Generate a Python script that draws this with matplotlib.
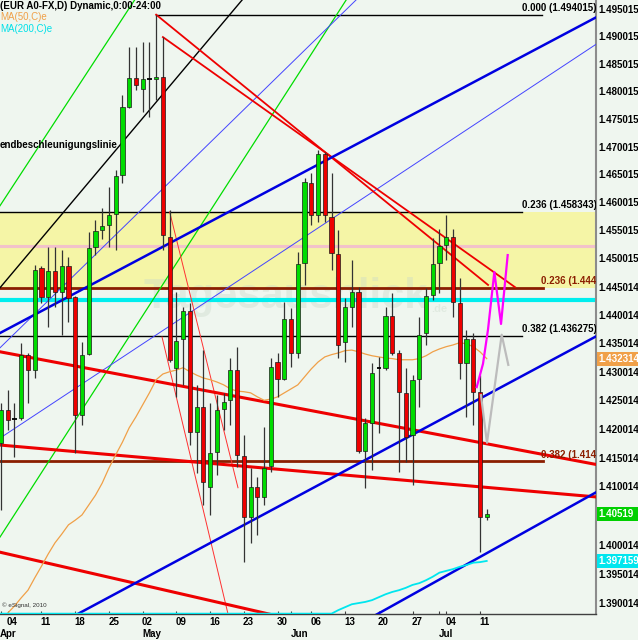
import numpy as np
import pandas as pd
import matplotlib
matplotlib.use("Agg")
import matplotlib.pyplot as plt
from matplotlib.patches import Rectangle
from matplotlib.ticker import NullLocator, NullFormatter
from matplotlib.transforms import blended_transform_factory

plt.rcParams['font.family'] = ['Liberation Sans', 'DejaVu Sans']

# ---------------- data ----------------
dates = pd.bdate_range("2011-04-01", "2011-07-12")

opens = [1.4176, 1.4233, 1.4217, 1.4219, 1.4330, 1.4303, 1.4483, 1.4432, 1.4478, 1.4441,
         1.4487, 1.4432, 1.4224, 1.4331, 1.4521, 1.4551, 1.4560, 1.4579, 1.4649, 1.4772,
         1.4825, 1.4805, 1.4823, 1.4823, 1.4827, 1.4538, 1.4307, 1.4358, 1.4407, 1.4195,
         1.4238, 1.4099, 1.4160, 1.4235, 1.4250, 1.4303, 1.4153, 1.4048, 1.4099, 1.4082,
         1.4136, 1.4317, 1.4287, 1.4393, 1.4333, 1.4492, 1.4635, 1.4578, 1.4687, 1.4574,
         1.4508, 1.4352, 1.4414, 1.4441, 1.4162, 1.4210, 1.4307, 1.4307, 1.4398, 1.4333,
         1.4263, 1.4190, 1.4287, 1.4368, 1.4435, 1.4492, 1.4524, 1.4538, 1.4421, 1.4316,
         1.4358, 1.4265, 1.4048]
highs = [1.4245, 1.4268, 1.4245, 1.4351, 1.4333, 1.4489, 1.4487, 1.4521, 1.4521, 1.4515,
         1.4503, 1.4433, 1.4352, 1.4547, 1.4569, 1.4590, 1.4628, 1.4658, 1.4794, 1.4881,
         1.4881, 1.4890, 1.4890, 1.4940, 1.4899, 1.4587, 1.4441, 1.4414, 1.4421, 1.4277,
         1.4338, 1.4245, 1.4259, 1.4263, 1.4324, 1.4344, 1.4190, 1.4132, 1.4117, 1.4203,
         1.4324, 1.4333, 1.4423, 1.4412, 1.4512, 1.4644, 1.4653, 1.4694, 1.4691, 1.4653,
         1.4551, 1.4430, 1.4497, 1.4449, 1.4219, 1.4316, 1.4326, 1.4414, 1.4439, 1.4338,
         1.4307, 1.4294, 1.4396, 1.4448, 1.4537, 1.4553, 1.4578, 1.4553, 1.4466, 1.4374,
         1.4368, 1.4294, 1.4061]
lows = [1.4060, 1.4198, 1.4151, 1.4216, 1.4245, 1.4289, 1.4421, 1.4379, 1.4414, 1.4365,
        1.4388, 1.4158, 1.4207, 1.4330, 1.4506, 1.4535, 1.4521, 1.4515, 1.4635, 1.4770,
        1.4803, 1.4763, 1.4754, 1.4785, 1.4515, 1.4317, 1.4256, 1.4277, 1.4172, 1.4124,
        1.4068, 1.4051, 1.4120, 1.4198, 1.4207, 1.4134, 1.3970, 1.4003, 1.4017, 1.4068,
        1.4125, 1.4256, 1.4286, 1.4308, 1.4324, 1.4453, 1.4560, 1.4565, 1.4565, 1.4480,
        1.4324, 1.4317, 1.4379, 1.4158, 1.4098, 1.4129, 1.4193, 1.4303, 1.4330, 1.4125,
        1.4143, 1.4103, 1.4238, 1.4347, 1.4426, 1.4439, 1.4497, 1.4396, 1.4287, 1.4221,
        1.4207, 1.3987, 1.4042]
closes = [1.4233, 1.4216, 1.4217, 1.4330, 1.4303, 1.4480, 1.4432, 1.4478, 1.4441, 1.4487,
          1.4430, 1.4224, 1.4330, 1.4519, 1.4549, 1.4558, 1.4578, 1.4648, 1.4772, 1.4825,
          1.4812, 1.4823, 1.4823, 1.4827, 1.4542, 1.4321, 1.4354, 1.4407, 1.4195, 1.4238,
          1.4108, 1.4158, 1.4233, 1.4247, 1.4303, 1.4155, 1.4048, 1.4099, 1.4082, 1.4132,
          1.4308, 1.4287, 1.4393, 1.4333, 1.4490, 1.4637, 1.4578, 1.4687, 1.4578, 1.4510,
          1.4347, 1.4414, 1.4441, 1.4162, 1.4210, 1.4298, 1.4307, 1.4398, 1.4333, 1.4265,
          1.4186, 1.4286, 1.4365, 1.4433, 1.4490, 1.4522, 1.4538, 1.4423, 1.4316, 1.4358,
          1.4265, 1.4048, 1.4052]

ma50 = [np.nan, 1.3883, 1.3895, 1.3909, 1.3922, 1.3943, 1.3963, 1.3984, 1.4003, 1.4018,
        1.4034, 1.4042, 1.4051, 1.4068, 1.4085, 1.4106, 1.4132, 1.4155, 1.4177, 1.4202,
        1.4221, 1.4242, 1.4263, 1.4286, 1.4296, 1.4300, 1.4303, 1.4307, 1.4300, 1.4294,
        1.4289, 1.4286, 1.4282, 1.4277, 1.4270, 1.4266, 1.4265, 1.4263, 1.4256, 1.4250,
        1.4252, 1.4256, 1.4263, 1.4270, 1.4277, 1.4291, 1.4305, 1.4317, 1.4326, 1.4330,
        1.4333, 1.4337, 1.4338, 1.4335, 1.4331, 1.4328, 1.4326, 1.4324, 1.4323, 1.4321,
        1.4321, 1.4321, 1.4323, 1.4328, 1.4335, 1.4340, 1.4344, 1.4347, 1.4351, 1.4349,
        1.4344, 1.4335, 1.4323]
ma200 = [1.3882, 1.3882, 1.3882, 1.3882, 1.3882, 1.3882, 1.3882, 1.3882, 1.3882, 1.3882,
         1.3882, 1.3882, 1.3882, 1.3882, 1.3882, 1.3882, 1.3882, 1.3882, 1.3882, 1.3882,
         1.3882, 1.3882, 1.3882, 1.3882, 1.3882, 1.3882, 1.3882, 1.3882, 1.3882, 1.3882,
         1.3882, 1.3882, 1.3882, 1.3882, 1.3882, 1.3882, 1.3882, 1.3882, 1.3882, 1.3882,
         1.3882, 1.3882, 1.3882, 1.3882, 1.3882, 1.3882, 1.3882, 1.3882, 1.3882, 1.3882,
         1.3888, 1.3893, 1.3898, 1.3900, 1.3902, 1.3905, 1.3910, 1.3915, 1.3919, 1.3922,
         1.3926, 1.3931, 1.3934, 1.3939, 1.3945, 1.3952, 1.3955, 1.3958, 1.3962, 1.3965,
         1.3969, 1.3970, 1.3972]

day_labels = ["04", "11", "18", "25", "02", "09", "16", "23", "30", "06", "13", "20", "27", "04", "11"]
month_labels = ["Apr", "May", "Jun", "Jul"]

y_tick_values = [1.495015, 1.490015, 1.485015, 1.480015, 1.475015, 1.470015, 1.465015,
                 1.460015, 1.455015, 1.450015, 1.445014, 1.440014, 1.435014, 1.430014,
                 1.425014, 1.420014, 1.415014, 1.410014, 1.400014, 1.395014, 1.390014]
y_tick_labels = ["1.495015", "1.490015", "1.485015", "1.480015", "1.475015", "1.470015", "1.465015",
                 "1.460015", "1.455015", "1.450015", "1.445014", "1.440014", "1.435014", "1.430014",
                 "1.425014", "1.420014", "1.415014", "1.410014", "1.400014", "1.395014", "1.390014"]

# Fibonacci levels
fib_top = 1.494015
fib_top_label = "0.000 (1.494015)"
fib_black = [1.458343, 1.436275]
fib_black_labels = ["0.236 (1.458343)", "0.382 (1.436275)"]
fib_brown = [1.444750, 1.414400]
fib_brown_labels = ["0.236 (1.444", "0.382 (1.414"]
band_low, band_high = 1.444750, 1.458343
pink_level = 1.4522
cyan_level = 1.4426

# trend lines as (trading-day index, price) pairs
black_line = [(-0.15, 1.4448), (36.9, 1.4984)]
green_lines = [[(-0.15, 1.4594), (20.6, 1.4982)],
               [(-0.15, 1.4013), (52.0, 1.4983)]]
blue_thick = [[(-0.15, 1.4368), (88.35, 1.4936)],
              [(10.0, 1.3873), (88.35, 1.4363)],
              [(54.5, 1.3873), (88.35, 1.4091)]]
blue_thin = [[(-0.15, 1.4184), (88.35, 1.4887)],
             [(-0.15, 1.4342), (53.96, 1.4983)]]
red_top = [[(23.0, 1.4940), (72.2, 1.4453)],
           [(24.0, 1.4899), (76.2, 1.4449)]]
red_thin = [[(25.0, 1.4583), (35.13, 1.4098)],
            [(23.87, 1.4361), (33.95, 1.3867)]]
red_thick = [[(-0.15, 1.4335), (88.35, 1.4138)],
             [(-0.15, 1.4172), (88.35, 1.4082)],
             [(-0.15, 1.3987), (41.36, 1.3877)]]

forecast_magenta_x = [70.52, 71.45, 72.19, 73.13, 74.12, 75.11]
forecast_magenta_y = [1.4273, 1.4314, 1.4374, 1.4476, 1.4384, 1.4506]
forecast_gray_x = [71.15, 72.04, 74.22, 75.2]
forecast_gray_y = [1.4259, 1.4176, 1.4365, 1.4312]

last_close_label = "1.40519"
ma50_label = "1.432314"
ma200_label = "1.397159"

# ---------------- styling ----------------
BG = '#eff6ef'
GREEN = '#00dc00'
RED = '#ee0000'

W, H = 638, 640
fig = plt.figure(figsize=(W / 100, H / 100), dpi=100, facecolor=BG)
ax = fig.add_axes([0, 26 / H, 596 / W, 614 / H])
ax.set_facecolor(BG)
ax.set_yscale('log')
ax.set_xlim(-0.148, 88.2)
ax.set_ylim(1.38814, 1.49669)

idx = np.arange(len(dates))
o = np.array(opens); h = np.array(highs); l = np.array(lows); c = np.array(closes)
assert len(o) == len(h) == len(l) == len(c) == len(idx) == len(ma50) == len(ma200)

# band and horizontal levels
ax.axhspan(band_low, band_high, color='#f5f5a6', zorder=0.5, lw=0)
ax.axhline(pink_level, color='#f2c2ca', lw=2.2, zorder=1.6)
ax.axhline(cyan_level, color='#00eeee', lw=3.0, zorder=1.6)

x_fib_end = 77.2
x_brown_end = 80.3
ax.plot([23.0, 80.2], [fib_top, fib_top], color='black', lw=1.0, zorder=2)
for lvl in fib_black:
    ax.plot([-0.15, x_fib_end], [lvl, lvl], color='black', lw=1.0, zorder=2)
for lvl in fib_brown:
    ax.plot([-0.15, x_brown_end], [lvl, lvl], color='#8b1e00', lw=2.0, zorder=2)

lab_kw = dict(fontsize=7, fontweight='bold', va='bottom', ha='left', zorder=9, clip_on=True)
ax.text(77.2, fib_top * 1.0002, fib_top_label, color='black', **lab_kw)
for lvl, lab in zip(fib_black, fib_black_labels):
    ax.text(77.2, lvl * 1.0002, lab, color='black', **lab_kw)
for lvl, lab in zip(fib_brown, fib_brown_labels):
    ax.text(80.1, lvl * 1.0002, lab, color='#8b1e00', **lab_kw)

# watermark
ax.text(143 / W, 1 - 297 / H, "Tagesausblick", transform=fig.transFigure, fontsize=30,
        fontweight='bold', color='#c9d9c9', alpha=0.38, ha='left', va='center', zorder=1)
ax.text(431 / W, 1 - 309 / H, ".de", transform=fig.transFigure, fontsize=8,
        fontweight='bold', color='#c9d9c9', alpha=0.38, ha='left', va='center', zorder=1)


def draw_lines(lines, **kw):
    for seg in lines:
        xs = [p[0] for p in seg]
        ys = [p[1] for p in seg]
        ax.plot(xs, ys, **kw)


draw_lines([black_line], color='black', lw=1.0, zorder=3)
draw_lines(green_lines, color='#00dd00', lw=0.9, zorder=3)
draw_lines(blue_thin, color='#4444ff', lw=0.7, zorder=3)
draw_lines(blue_thick, color='#0000e0', lw=1.8, zorder=3.2)
draw_lines(red_thin, color='#ff3030', lw=0.7, zorder=3)
draw_lines(red_top, color=RED, lw=1.3, zorder=3.1)
draw_lines(red_thick, color=RED, lw=2.2, zorder=3.1)

# moving averages
ax.plot(idx, ma50, color='#f0a048', lw=0.9, zorder=4)
ax.plot(idx, ma200, color='#00e6ee', lw=1.3, zorder=4)

# candles
up = c > o
dn = c < o
flat = c == o
ax.vlines(idx, l, h, color='#333333', lw=0.9, zorder=6)
ax.bar(idx[up], (c - o)[up], bottom=o[up], width=0.62, color=GREEN,
       edgecolor='#1a1a1a', linewidth=0.5, zorder=7)
ax.bar(idx[dn], (o - c)[dn], bottom=c[dn], width=0.62, color=RED,
       edgecolor='#1a1a1a', linewidth=0.5, zorder=7)
ax.hlines(c[flat], idx[flat] - 0.32, idx[flat] + 0.32, color='black', lw=1.3, zorder=7)

# forecast sketches
ax.plot(forecast_gray_x, forecast_gray_y, color='#bcbcbc', lw=1.6, zorder=8)
ax.plot(forecast_magenta_x, forecast_magenta_y, color='#ff00ff', lw=1.6, zorder=8.1)

# axes decoration
for s in ['top', 'left']:
    ax.spines[s].set_visible(False)
ax.spines['right'].set_color('#8c8c8c')
ax.spines['right'].set_linewidth(1.5)
ax.spines['bottom'].set_color('#404040')
ax.spines['bottom'].set_linewidth(1.0)

ax.yaxis.tick_right()
ax.set_yticks(y_tick_values)
ax.set_yticklabels(y_tick_labels)
ax.yaxis.set_minor_locator(NullLocator())
ax.yaxis.set_minor_formatter(NullFormatter())
ax.tick_params(axis='y', length=0, pad=1.5, labelsize=7)
for t in ax.get_yticklabels():
    t.set_fontweight('bold')

mondays = [i for i, d in enumerate(dates) if d.weekday() == 0]
month_starts = [i for i, d in enumerate(dates) if i == 0 or d.month != dates[i - 1].month]
ax.set_xticks(sorted(set(mondays + month_starts)))
ax.set_xticklabels([])
ax.tick_params(axis='x', length=2.5, direction='in', color='#404040')

tr = blended_transform_factory(ax.transData, fig.transFigure)
for pos, lab in zip(mondays, day_labels):
    ax.text(pos - 0.12, 1 - 622 / H, lab, transform=tr, ha='left', va='center',
            fontsize=7, fontweight='bold', clip_on=False)
for k, (pos, lab) in enumerate(zip(month_starts, month_labels)):
    ax.text(pos - 0.1 if k else -0.14, 1 - 634 / H, lab, transform=tr, ha='left', va='center',
            fontsize=7, fontweight='bold', clip_on=False)

# header texts
fig.text(0, 1 - 6 / H, "(EUR A0-FX,D) Dynamic,0:00-24:00", fontsize=7, fontweight='bold',
         ha='left', va='center', color='black')
fig.text(0, 1 - 17 / H, "MA(50,C)e", fontsize=7, ha='left', va='center', color='#f0a048')
fig.text(0, 1 - 29 / H, "MA(200,C)e", fontsize=7, ha='left', va='center', color='#00e0e8')
fig.text(0, 1 - 145 / H, "endbeschleunigungslinie", fontsize=7, fontweight='bold',
         ha='left', va='center', color='black')
fig.text(2 / W, 1 - 605 / H, "\u00a9 eSignal, 2010", fontsize=4.5, ha='left', va='center',
         color='#333333')

# right-side value boxes
def value_box(price, text, color):
    ypix = ax.transData.transform((0, price))[1]
    rect = Rectangle((597 / W, (ypix - 7) / H), 41 / W, 14 / H, transform=fig.transFigure,
                     facecolor=color, edgecolor='none', zorder=10)
    fig.add_artist(rect)
    fig.text(598.5 / W, ypix / H, text, color='white', fontsize=7, fontweight='bold',
             ha='left', va='center', zorder=11)


value_box(ma50[-1], ma50_label, '#f0a048')
value_box(closes[-1], last_close_label, '#00d000')
value_box(ma200[-1], ma200_label, '#00e6ee')

fig.savefig("out.png", dpi=100, facecolor=BG)
